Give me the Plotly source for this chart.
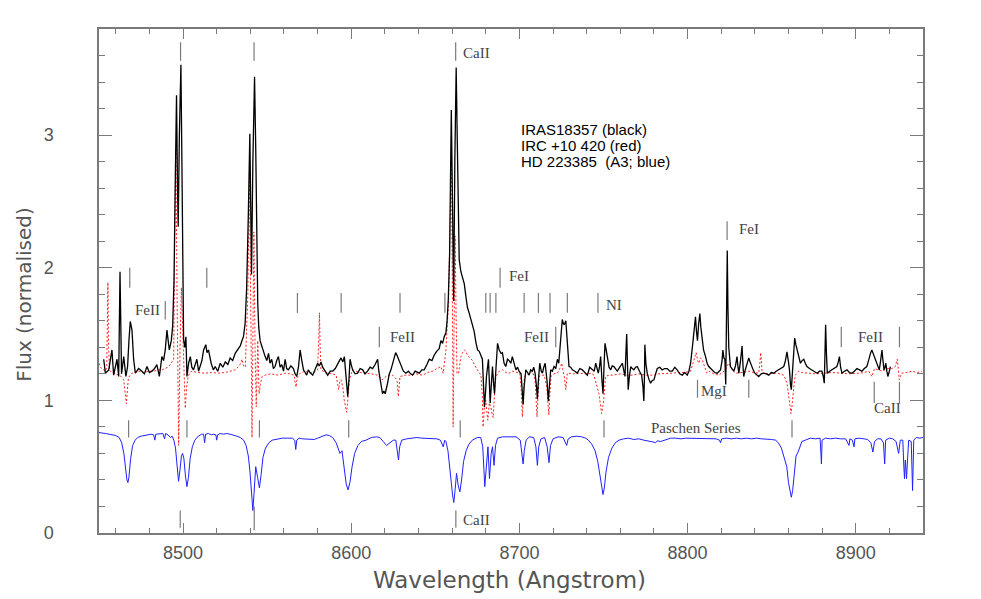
import plotly.graph_objects as go

# IRAS18357 (black)
black_wl = [8452.8, 8453.8, 8455.8, 8457.7, 8458.7, 8460.7, 8461.7, 8462.5, 8463.4, 8464.7, 8466.0, 8467.0, 8467.8, 8468.6,
            8469.6, 8470.6, 8471.6, 8473.6, 8475.5, 8477.0, 8478.5, 8480.0, 8481.5, 8483.0, 8484.4, 8485.9, 8487.4, 8488.4,
            8489.4, 8490.4, 8491.8, 8493.0, 8493.8, 8494.6, 8495.4, 8496.1, 8496.7, 8497.1, 8497.8, 8498.7, 8499.3, 8499.8,
            8500.3, 8501.0, 8501.7, 8502.3, 8503.3, 8504.3, 8505.2, 8506.2, 8507.2, 8508.2, 8509.2, 8510.2, 8511.2, 8512.2,
            8513.5, 8514.2, 8515.1, 8516.7, 8518.0, 8519.1, 8520.6, 8522.1, 8523.6, 8525.1, 8526.6, 8528.0, 8529.5, 8531.0,
            8532.5, 8534.0, 8535.0, 8535.9, 8536.9, 8537.8, 8538.8, 8539.7, 8540.2, 8540.7, 8541.5, 8542.5, 8543.2, 8543.9,
            8544.4, 8545.0, 8545.8, 8546.8, 8547.8, 8548.8, 8549.8, 8550.8, 8551.7, 8552.7, 8553.7, 8554.7, 8555.7, 8556.7,
            8557.7, 8558.7, 8559.7, 8560.7, 8561.6, 8562.6, 8564.1, 8565.6, 8566.6, 8567.6, 8568.6, 8569.6, 8570.6, 8571.6,
            8572.6, 8573.5, 8574.5, 8575.5, 8577.1, 8578.5, 8580.0, 8581.0, 8582.0, 8583.0, 8584.0, 8585.0, 8586.0, 8587.5,
            8589.0, 8590.5, 8591.9, 8593.0, 8593.9, 8595.0, 8595.9, 8596.8, 8597.9, 8598.6, 8599.3, 8600.0, 8600.8, 8602.3,
            8603.8, 8605.3, 8606.8, 8608.2, 8609.7, 8611.2, 8612.7, 8614.2, 8615.7, 8616.4, 8617.1, 8618.6, 8619.4, 8620.2,
            8621.6, 8622.6, 8623.6, 8624.6, 8625.6, 8626.4, 8627.2, 8628.4, 8629.6, 8631.0, 8632.5, 8634.0, 8635.3, 8636.5,
            8638.0, 8639.3, 8640.4, 8642.0, 8643.4, 8645.0, 8646.4, 8648.0, 8649.3, 8650.8, 8652.3, 8653.3, 8654.3, 8655.3,
            8656.3, 8657.0, 8657.7, 8658.5, 8659.0, 8659.5, 8660.1, 8660.9, 8661.6, 8662.4, 8663.0, 8663.6, 8664.2, 8665.2,
            8666.2, 8667.2, 8668.2, 8669.1, 8670.1, 8671.1, 8672.1, 8673.1, 8674.1, 8675.1, 8676.1, 8677.1, 8678.0, 8678.7,
            8679.2, 8679.8, 8680.4, 8681.6, 8682.2, 8682.6, 8683.2, 8684.0, 8684.7, 8685.2, 8686.1, 8687.0, 8688.0, 8689.0,
            8689.9, 8690.9, 8691.9, 8692.9, 8693.9, 8694.9, 8695.8, 8696.9, 8697.9, 8698.9, 8699.8, 8701.0, 8701.8, 8702.2,
            8702.8, 8703.8, 8704.8, 8705.8, 8706.7, 8707.7, 8708.5, 8709.3, 8710.2, 8710.7, 8711.3, 8712.1, 8713.0, 8713.7,
            8714.5, 8715.3, 8716.4, 8717.2, 8717.9, 8718.6, 8719.6, 8720.6, 8721.6, 8722.6, 8723.4, 8724.2, 8725.0, 8725.5,
            8726.1, 8726.7, 8727.6, 8728.0, 8728.5, 8729.5, 8730.5, 8731.5, 8733.0, 8734.4, 8735.9, 8737.4, 8738.9, 8740.4,
            8741.8, 8743.3, 8744.5, 8745.4, 8746.9, 8747.6, 8748.3, 8749.1, 8749.7, 8750.3, 8750.9, 8751.6, 8752.3, 8753.3,
            8754.3, 8755.2, 8756.2, 8757.2, 8758.2, 8759.7, 8761.2, 8762.0, 8762.8, 8763.3, 8763.8, 8764.2, 8764.7, 8765.4,
            8766.2, 8767.1, 8768.1, 8769.1, 8770.1, 8771.4, 8772.7, 8773.5, 8774.0, 8774.4, 8774.6, 8775.2, 8776.0, 8777.0,
            8778.0, 8779.0, 8780.0, 8781.0, 8782.0, 8783.5, 8784.9, 8786.4, 8787.9, 8789.4, 8790.9, 8792.4, 8793.8, 8795.3,
            8796.8, 8798.3, 8799.8, 8800.8, 8801.8, 8803.1, 8804.0, 8804.7, 8805.3, 8805.9, 8806.6, 8807.3, 8807.9, 8808.7,
            8809.5, 8810.7, 8811.6, 8812.6, 8813.6, 8814.6, 8816.1, 8817.6, 8818.6, 8819.6, 8820.5, 8821.0, 8821.6, 8822.2,
            8822.7, 8823.1, 8823.6, 8824.0, 8824.5, 8825.5, 8826.5, 8827.5, 8828.5, 8829.4, 8830.0, 8830.5, 8831.5, 8832.4,
            8833.0, 8833.4, 8834.1, 8834.8, 8835.6, 8836.4, 8837.2, 8838.0, 8839.0, 8840.0, 8841.2, 8842.3, 8843.8, 8845.3,
            8846.8, 8848.3, 8849.8, 8851.2, 8852.7, 8854.2, 8855.7, 8857.2, 8858.2, 8859.1, 8859.9, 8860.6, 8861.2, 8861.7,
            8862.3, 8862.9, 8863.7, 8864.4, 8865.1, 8866.1, 8867.1, 8868.1, 8869.1, 8870.0, 8871.0, 8872.5, 8874.0, 8875.5,
            8877.0, 8878.5, 8879.9, 8880.7, 8881.3, 8881.7, 8882.1, 8882.6, 8883.1, 8884.5, 8885.9, 8887.3, 8888.8, 8889.6,
            8890.3, 8891.0, 8891.8, 8893.3, 8894.8, 8896.2, 8897.7, 8899.2, 8900.7, 8902.2, 8903.7, 8905.1, 8906.6, 8907.4,
            8908.1, 8908.9, 8909.6, 8910.4, 8911.2, 8911.9, 8912.6, 8913.3, 8914.0, 8914.8, 8915.6, 8916.2, 8916.8, 8917.4,
            8917.9, 8918.5, 8919.1, 8919.8, 8920.6]
black_fx = [1.31, 1.205, 1.23, 1.38, 1.19, 1.31, 1.18, 1.97, 1.20, 1.33, 1.18, 1.255, 1.45, 1.595,
            1.53, 1.31, 1.205, 1.24, 1.22, 1.20, 1.255, 1.21, 1.22, 1.24, 1.27, 1.18, 1.33, 1.30,
            1.38, 1.53, 1.38, 1.45, 1.56, 1.9, 2.7, 3.30, 2.6, 2.31, 3.0, 3.53, 2.8, 1.9,
            1.46, 1.40, 1.48, 1.18, 1.28, 1.33, 1.25, 1.23, 1.27, 1.31, 1.22, 1.255, 1.30, 1.38,
            1.42, 1.36, 1.38, 1.28, 1.23, 1.255, 1.22, 1.28, 1.25, 1.29, 1.27, 1.32, 1.30, 1.355,
            1.38, 1.41, 1.45, 1.48, 1.58, 1.85, 2.4, 3.01, 2.5, 1.95, 2.8, 3.44, 2.9, 2.1,
            1.73, 1.55, 1.45, 1.41, 1.36, 1.33, 1.30, 1.355, 1.28, 1.31, 1.24, 1.255, 1.30, 1.33,
            1.25, 1.27, 1.22, 1.31, 1.24, 1.23, 1.26, 1.24, 1.20, 1.18, 1.25, 1.38, 1.30, 1.23,
            1.21, 1.19, 1.23, 1.21, 1.19, 1.24, 1.28, 1.26, 1.29, 1.25, 1.23, 1.21, 1.19, 1.22,
            1.22, 1.24, 1.28, 1.30, 1.32, 1.29, 1.33, 1.20, 1.03, 1.15, 1.31, 1.27, 1.23, 1.20,
            1.205, 1.24, 1.23, 1.20, 1.22, 1.25, 1.24, 1.27, 1.31, 1.22, 1.155, 1.05, 1.07, 1.05,
            1.13, 1.20, 1.23, 1.28, 1.31, 1.36, 1.34, 1.30, 1.255, 1.22, 1.205, 1.22, 1.20, 1.19,
            1.22, 1.21, 1.205, 1.23, 1.23, 1.27, 1.31, 1.30, 1.34, 1.37, 1.39, 1.45, 1.43, 1.48,
            1.51, 1.60, 1.76, 2.1, 2.7, 3.19, 2.6, 1.75, 2.8, 3.51, 3.0, 2.4, 2.06, 1.97,
            1.93, 1.88, 1.78, 1.70, 1.66, 1.61, 1.56, 1.52, 1.44, 1.38, 1.37, 1.34, 1.31, 1.10,
            0.95, 1.05, 1.18, 1.31, 1.10, 0.98, 1.10, 1.255, 1.12, 1.05, 1.25, 1.43, 1.38, 1.355,
            1.36, 1.28, 1.255, 1.31, 1.30, 1.28, 1.33, 1.27, 1.23, 1.25, 1.22, 1.20, 1.05, 0.97,
            1.10, 1.23, 1.21, 1.19, 1.23, 1.22, 1.25, 1.205, 1.10, 1.01, 1.15, 1.28, 1.22, 1.205,
            1.25, 1.28, 1.15, 0.995, 1.12, 1.23, 1.22, 1.255, 1.24, 1.31, 1.28, 1.41, 1.55, 1.61,
            1.58, 1.57, 1.60, 1.52, 1.41, 1.255, 1.25, 1.23, 1.22, 1.205, 1.24, 1.23, 1.21, 1.19,
            1.25, 1.23, 1.22, 1.28, 1.205, 1.25, 1.33, 1.15, 1.05, 1.25, 1.43, 1.38, 1.33, 1.25,
            1.23, 1.26, 1.255, 1.24, 1.22, 1.25, 1.28, 1.23, 1.18, 1.35, 1.50, 1.30, 1.08, 1.18,
            1.255, 1.24, 1.23, 1.25, 1.255, 1.22, 1.19, 1.10, 0.995, 1.20, 1.42, 1.28, 1.205, 1.16,
            1.13, 1.15, 1.155, 1.20, 1.24, 1.25, 1.23, 1.24, 1.24, 1.22, 1.22, 1.25, 1.23, 1.20,
            1.19, 1.21, 1.19, 1.22, 1.28, 1.43, 1.55, 1.63, 1.52, 1.45, 1.58, 1.655, 1.55, 1.45,
            1.38, 1.33, 1.28, 1.255, 1.24, 1.23, 1.21, 1.205, 1.22, 1.23, 1.30, 1.38, 1.32, 1.31,
            1.12, 1.6, 2.13, 1.7, 1.40, 1.255, 1.24, 1.22, 1.26, 1.33, 1.25, 1.205, 1.30, 1.41,
            1.25, 1.18, 1.22, 1.255, 1.28, 1.32, 1.29, 1.255, 1.23, 1.205, 1.19, 1.18, 1.20, 1.205,
            1.20, 1.19, 1.21, 1.205, 1.22, 1.23, 1.24, 1.255, 1.30, 1.365, 1.30, 1.23, 1.12, 1.08,
            1.20, 1.31, 1.47, 1.42, 1.38, 1.33, 1.28, 1.30, 1.31, 1.28, 1.255, 1.24, 1.23, 1.22,
            1.205, 1.22, 1.22, 1.18, 1.13, 1.35, 1.57, 1.35, 1.205, 1.22, 1.23, 1.24, 1.255, 1.29,
            1.33, 1.25, 1.205, 1.22, 1.23, 1.21, 1.205, 1.22, 1.24, 1.23, 1.22, 1.24, 1.255, 1.29,
            1.33, 1.36, 1.38, 1.35, 1.33, 1.30, 1.28, 1.25, 1.23, 1.30, 1.38, 1.30, 1.23, 1.25,
            1.28, 1.22, 1.18, 1.21, 1.255]

# IRC +10 420 (red)
red_wl = [8450.0, 8450.8, 8451.8, 8452.8, 8453.8, 8454.6, 8455.0, 8455.3, 8455.7, 8456.2, 8457.5, 8458.7, 8460.2, 8461.7,
          8463.2, 8464.7, 8465.6, 8466.3, 8466.9, 8467.5, 8468.5, 8469.6, 8471.6, 8473.6, 8476.5, 8479.5, 8482.5, 8485.5,
          8487.5, 8489.4, 8491.0, 8492.4, 8493.4, 8494.4, 8495.0, 8495.7, 8496.4, 8497.4, 8498.2, 8499.0, 8500.0, 8501.3,
          8502.1, 8503.0, 8504.0, 8505.2, 8509.0, 8513.2, 8517.0, 8521.1, 8525.0, 8529.0, 8531.0, 8533.0, 8534.3, 8535.0,
          8536.0, 8537.0, 8538.5, 8539.5, 8540.3, 8541.0, 8541.6, 8542.1, 8542.8, 8543.5, 8544.4, 8545.2, 8546.0, 8547.0,
          8548.8, 8552.0, 8556.7, 8560.7, 8563.5, 8566.0, 8566.7, 8567.2, 8567.8, 8569.6, 8572.5, 8575.1, 8578.0, 8580.0,
          8580.6, 8581.1, 8581.5, 8582.0, 8584.5, 8587.0, 8589.0, 8591.0, 8592.0, 8592.5, 8593.2, 8593.9, 8595.0, 8595.9,
          8597.3, 8598.2, 8598.9, 8600.0, 8600.8, 8605.0, 8608.8, 8612.0, 8615.7, 8617.0, 8618.3, 8620.7, 8622.5, 8624.6,
          8626.2, 8627.2, 8628.0, 8628.6, 8629.0, 8632.0, 8634.5, 8638.5, 8642.4, 8645.5, 8648.3, 8651.0, 8653.3, 8654.7,
          8655.6, 8656.3, 8657.8, 8658.8, 8659.6, 8660.1, 8660.6, 8661.2, 8661.8, 8662.3, 8662.9, 8663.8, 8664.6, 8665.2,
          8666.2, 8667.2, 8668.2, 8669.1, 8670.6, 8672.1, 8673.6, 8675.1, 8676.1, 8677.1, 8677.9, 8678.4, 8679.2, 8680.0,
          8680.6, 8681.2, 8682.1, 8683.0, 8683.7, 8684.4, 8685.2, 8686.0, 8688.0, 8689.9, 8692.0, 8693.9, 8695.8, 8698.0,
          8700.2, 8701.0, 8701.8, 8702.4, 8703.0, 8705.5, 8707.7, 8709.3, 8710.5, 8711.1, 8711.7, 8713.2, 8714.7, 8716.3,
          8717.5, 8718.1, 8718.8, 8720.6, 8722.6, 8724.0, 8725.2, 8726.0, 8726.7, 8727.6, 8728.5, 8732.0, 8735.5, 8739.5,
          8743.3, 8744.5, 8745.7, 8747.3, 8748.9, 8750.1, 8750.7, 8751.3, 8753.2, 8755.2, 8760.0, 8764.0, 8767.1, 8771.0,
          8775.0, 8779.0, 8783.0, 8787.0, 8790.9, 8794.5, 8798.0, 8801.8, 8803.7, 8805.1, 8806.0, 8806.7, 8807.7, 8808.7,
          8810.2, 8811.6, 8812.6, 8815.6, 8818.6, 8820.6, 8822.6, 8823.5, 8824.5, 8826.5, 8828.5, 8832.5, 8836.4, 8839.5,
          8842.3, 8843.0, 8843.5, 8844.0, 8844.3, 8848.0, 8852.3, 8855.0, 8857.2, 8858.2, 8859.1, 8859.9, 8860.6, 8861.5,
          8862.1, 8862.7, 8863.4, 8864.1, 8866.0, 8868.0, 8872.0, 8876.0, 8881.9, 8886.0, 8891.8, 8896.0, 8901.7, 8905.0,
          8907.7, 8909.6, 8911.2, 8913.0, 8915.6, 8919.0, 8921.5, 8923.5, 8924.7, 8925.3, 8925.9, 8926.6, 8927.4, 8930.0,
          8933.4, 8936.5, 8939.3]
red_fx = [1.28, 1.25, 1.24, 1.23, 1.22, 1.25, 1.60, 1.89, 1.40, 1.23, 1.21, 1.205, 1.20, 1.19,
          1.18, 1.155, 1.05, 0.975, 1.08, 1.17, 1.19, 1.205, 1.21, 1.22, 1.21, 1.22, 1.22, 1.23,
          1.23, 1.24, 1.25, 1.27, 1.29, 1.31, 2.2, 2.90, 1.8, 0.66, 1.4, 1.85, 1.45, 0.94,
          1.10, 1.18, 1.21, 1.22, 1.21, 1.205, 1.21, 1.205, 1.21, 1.22, 1.23, 1.255, 1.28, 1.31,
          1.26, 1.25, 1.8, 2.69, 1.6, 0.72, 1.6, 2.27, 1.4, 0.95, 1.45, 1.05, 1.12, 1.18,
          1.19, 1.20, 1.19, 1.205, 1.20, 1.19, 1.13, 1.10, 1.17, 1.205, 1.22, 1.205, 1.21, 1.23,
          1.45, 1.66, 1.40, 1.23, 1.21, 1.205, 1.20, 1.19, 1.12, 1.08, 1.14, 1.155, 1.10, 0.995,
          0.91, 1.05, 1.155, 1.20, 1.23, 1.21, 1.205, 1.20, 1.19, 1.17, 1.155, 1.18, 1.19, 1.19,
          1.17, 1.155, 1.03, 1.10, 1.18, 1.19, 1.19, 1.20, 1.19, 1.21, 1.22, 1.24, 1.255, 1.205,
          1.30, 1.38, 1.73, 2.4, 2.87, 1.9, 0.80, 1.6, 2.24, 1.7, 1.20, 1.205, 1.28, 1.33,
          1.36, 1.38, 1.37, 1.34, 1.32, 1.30, 1.26, 1.23, 1.21, 1.19, 1.05, 0.80, 0.95, 1.00,
          0.92, 0.85, 0.98, 0.95, 0.90, 0.87, 1.05, 1.18, 1.22, 1.23, 1.21, 1.205, 1.22, 1.21,
          1.205, 1.10, 0.875, 1.05, 1.18, 1.20, 1.22, 1.155, 0.875, 1.05, 1.18, 1.19, 1.19, 1.10,
          0.89, 1.05, 1.18, 1.20, 1.205, 1.24, 1.28, 1.22, 1.18, 1.08, 1.205, 1.20, 1.205, 1.20,
          1.205, 1.18, 1.13, 1.05, 0.90, 0.995, 1.10, 1.18, 1.19, 1.19, 1.20, 1.19, 1.19, 1.20,
          1.19, 1.19, 1.20, 1.20, 1.205, 1.21, 1.21, 1.22, 1.31, 1.36, 1.30, 1.28, 1.32, 1.31,
          1.25, 1.205, 1.22, 1.20, 1.19, 1.21, 1.23, 1.26, 1.28, 1.23, 1.205, 1.21, 1.22, 1.21,
          1.205, 1.28, 1.36, 1.28, 1.205, 1.20, 1.205, 1.20, 1.19, 1.16, 1.13, 1.06, 0.995, 0.90,
          0.96, 1.05, 1.13, 1.19, 1.22, 1.21, 1.205, 1.20, 1.205, 1.21, 1.205, 1.20, 1.205, 1.21,
          1.22, 1.18, 1.24, 1.23, 1.22, 1.24, 1.24, 1.255, 1.31, 1.24, 1.155, 1.18, 1.205, 1.21,
          1.22, 1.21, 1.22]

# HD 223385 (blue)
blue_wl = [8450, 8452, 8454, 8456, 8458, 8460, 8462, 8463.5, 8464.8, 8465.8, 8466.6, 8467.2, 8467.8, 8468.8,
           8470.0, 8471.5, 8473, 8475, 8477, 8479, 8481, 8482.5, 8483.2, 8483.8, 8486, 8488, 8489, 8489.6,
           8491, 8492.5, 8493.5, 8494.5, 8495.5, 8496.3, 8497.3, 8498.2, 8499.0, 8499.7, 8500.5, 8501.4, 8502.3, 8503.2,
           8504.2, 8505.5, 8507, 8509, 8511, 8512.2, 8512.8, 8513.4, 8515, 8517, 8518, 8519.5, 8520, 8520.5,
           8522, 8524, 8526, 8528, 8530, 8532, 8534, 8536, 8537.5, 8538.8, 8539.8, 8540.8, 8541.5, 8542.2,
           8543.2, 8544.3, 8545.4, 8546.4, 8547.5, 8549, 8551, 8553, 8556, 8559, 8562, 8565, 8566.4, 8567,
           8567.6, 8569, 8571, 8572, 8574, 8576, 8578, 8580, 8582, 8585, 8587, 8589, 8591, 8592.5,
           8593.3, 8594.5, 8595.8, 8597, 8598.1, 8599.2, 8600.5, 8602, 8604, 8606, 8608.8, 8612, 8615, 8617,
           8619, 8621, 8623, 8625, 8626.5, 8627.4, 8628.1, 8628.8, 8630, 8633, 8636, 8639, 8642, 8645,
           8648, 8651, 8653, 8654.7, 8655.6, 8656.3, 8657.5, 8658.5, 8659.5, 8660.3, 8661.0, 8661.8, 8662.6, 8663.6,
           8664.6, 8665.6, 8666.8, 8668.3, 8670, 8672, 8675, 8677, 8678.2, 8679.4, 8680.5, 8681.3, 8682.2, 8683.2,
           8684.0, 8684.9, 8685.8, 8687, 8690, 8694, 8698, 8700.5, 8701.5, 8702.2, 8702.9, 8704, 8706, 8708.5,
           8709.8, 8710.7, 8711.5, 8712.8, 8715, 8716.5, 8717.6, 8718.5, 8720, 8723, 8726, 8727.3, 8728.1, 8729,
           8731, 8734, 8737, 8739.4, 8741, 8743, 8745, 8746.6, 8748, 8749, 8749.7, 8750.5, 8751.5, 8753,
           8755, 8757, 8759.2, 8762, 8765, 8768, 8771, 8774, 8777, 8780, 8781, 8782, 8784, 8787,
           8790, 8793, 8796, 8799, 8802, 8805, 8808, 8811, 8814, 8817, 8819, 8819.6, 8820.3, 8823,
           8826, 8829, 8832, 8835, 8838, 8841, 8844, 8847, 8850, 8852.3, 8854, 8855.8, 8857, 8858,
           8859, 8860, 8861, 8861.7, 8862.5, 8863.5, 8864.5, 8865.7, 8866.8, 8868, 8870, 8873, 8876, 8878.8,
           8879.3, 8879.6, 8880, 8882, 8885, 8888, 8891, 8894, 8896, 8896.5, 8898, 8899, 8899.5, 8902,
           8905, 8907, 8909, 8910.2, 8911.2, 8913, 8915, 8916.5, 8917.2, 8917.8, 8920, 8922, 8924, 8925.5,
           8926.5, 8928, 8928.6, 8929, 8929.5, 8930.2, 8930.8, 8931.5, 8933, 8933.8, 8934.5, 8936, 8938, 8940]
blue_fx = [0.757, 0.755, 0.75, 0.745, 0.74, 0.735, 0.72, 0.68, 0.60, 0.48, 0.40, 0.38, 0.42, 0.56,
           0.66, 0.70, 0.72, 0.73, 0.735, 0.74, 0.745, 0.74, 0.70, 0.745, 0.75, 0.75, 0.71, 0.75,
           0.74, 0.72, 0.73, 0.70, 0.64, 0.52, 0.39, 0.48, 0.58, 0.60, 0.56, 0.43, 0.35, 0.42,
           0.56, 0.65, 0.70, 0.73, 0.745, 0.745, 0.68, 0.745, 0.75, 0.74, 0.745, 0.74, 0.70, 0.74,
           0.75, 0.745, 0.75, 0.745, 0.74, 0.73, 0.72, 0.70, 0.66, 0.58, 0.46, 0.30, 0.17, 0.30,
           0.50, 0.42, 0.34, 0.44, 0.57, 0.64, 0.68, 0.70, 0.71, 0.715, 0.715, 0.715, 0.70, 0.63,
           0.70, 0.715, 0.71, 0.71, 0.705, 0.71, 0.705, 0.715, 0.725, 0.74, 0.735, 0.72, 0.68, 0.62,
           0.60, 0.62, 0.50, 0.37, 0.325, 0.38, 0.50, 0.60, 0.66, 0.69, 0.70, 0.72, 0.725, 0.72,
           0.69, 0.66, 0.68, 0.70, 0.70, 0.62, 0.55, 0.65, 0.70, 0.71, 0.715, 0.72, 0.715, 0.715,
           0.715, 0.71, 0.70, 0.65, 0.70, 0.69, 0.62, 0.52, 0.38, 0.28, 0.23, 0.33, 0.45, 0.36,
           0.31, 0.40, 0.54, 0.62, 0.67, 0.70, 0.72, 0.72, 0.65, 0.35, 0.55, 0.65, 0.41, 0.60,
           0.65, 0.51, 0.66, 0.715, 0.725, 0.727, 0.725, 0.70, 0.60, 0.52, 0.62, 0.70, 0.725, 0.72,
           0.65, 0.51, 0.65, 0.71, 0.72, 0.65, 0.53, 0.66, 0.71, 0.725, 0.72, 0.69, 0.66, 0.71,
           0.725, 0.73, 0.725, 0.715, 0.70, 0.67, 0.62, 0.54, 0.42, 0.33, 0.29, 0.34, 0.46, 0.57,
           0.64, 0.68, 0.70, 0.71, 0.715, 0.705, 0.71, 0.70, 0.695, 0.685, 0.68, 0.695, 0.69, 0.70,
           0.715, 0.715, 0.71, 0.715, 0.715, 0.71, 0.715, 0.71, 0.715, 0.71, 0.70, 0.68, 0.71, 0.715,
           0.71, 0.715, 0.71, 0.715, 0.71, 0.715, 0.71, 0.71, 0.705, 0.70, 0.68, 0.64, 0.58, 0.55,
           0.50, 0.38, 0.30, 0.27, 0.32, 0.45, 0.58, 0.61, 0.65, 0.69, 0.70, 0.715, 0.71, 0.715,
           0.60, 0.52, 0.70, 0.715, 0.71, 0.715, 0.71, 0.71, 0.66, 0.71, 0.70, 0.65, 0.71, 0.715,
           0.71, 0.705, 0.68, 0.61, 0.69, 0.71, 0.71, 0.68, 0.52, 0.70, 0.715, 0.71, 0.69, 0.60,
           0.70, 0.70, 0.50, 0.41, 0.55, 0.41, 0.55, 0.70, 0.69, 0.32, 0.70, 0.72, 0.715, 0.72]

# line identification ticks: (wavelength, flux bottom, flux top)
id_ticks = [
    (8498.5, 3.56, 3.70), (8542.2, 3.56, 3.70), (8662.1, 3.56, 3.70),
    (8498.3, 0.04, 0.17), (8542.3, 0.02, 0.20), (8662.2, 0.04, 0.17),
    (8468.3, 1.85, 2.00), (8514.1, 1.85, 2.00), (8688.5, 1.85, 2.00),
    (8568.0, 1.66, 1.81), (8594.0, 1.66, 1.81), (8629.0, 1.66, 1.81), (8655.7, 1.66, 1.81),
    (8680.0, 1.66, 1.81), (8682.6, 1.66, 1.81), (8686.0, 1.66, 1.81), (8702.8, 1.66, 1.81),
    (8711.3, 1.66, 1.81), (8718.2, 1.66, 1.81), (8728.5, 1.66, 1.81), (8746.7, 1.66, 1.81),
    (8489.4, 1.61, 1.75), (8616.7, 1.40, 1.555), (8721.6, 1.40, 1.555), (8891.4, 1.40, 1.555), (8926.0, 1.40, 1.555),
    (8823.5, 2.21, 2.35),
    (8805.9, 1.02, 1.155), (8836.4, 1.02, 1.155),
    (8911.0, 0.98, 1.14), (8926.0, 0.98, 1.14),
    (8467.6, 0.72, 0.85), (8502.3, 0.72, 0.85), (8545.4, 0.72, 0.85), (8598.5, 0.72, 0.85),
    (8664.8, 0.72, 0.85), (8750.3, 0.72, 0.85), (8862.1, 0.72, 0.85),
]

# line labels: (text, wavelength, flux, anchor)
id_labels = [
    ("CaII", 8665.0, 3.62, "left"), ("FeII", 8487.3, 1.68, "right"), ("FeII", 8622.0, 1.48, "left"),
    ("FeI", 8692.7, 1.94, "left"), ("FeII", 8718.8, 1.48, "right"), ("NI", 8750.4, 1.72, "left"),
    ("FeI", 8829.4, 2.29, "left"), ("MgI", 8815.6, 1.07, "center"), ("FeII", 8900.0, 1.48, "left"),
    ("CaII", 8918.6, 0.94, "center"), ("Paschen Series", 8805.2, 0.79, "center"), ("CaII", 8665.4, 0.10, "left"),
]

key_lines = ["IRAS18357 (black)", "IRC +10 420 (red)", "HD 223385&nbsp;&nbsp;(A3; blue)"]
key_flux = [3.04, 2.92, 2.80]

gray = "#7a7a7a"

fig = go.Figure()
fig.add_trace(go.Scatter(x=blue_wl, y=blue_fx, mode="lines", line=dict(color="#2020ff", width=1)))
fig.add_trace(go.Scatter(x=red_wl, y=red_fx, mode="lines", line=dict(color="#ff2020", width=1, dash="2px,2px")))
fig.add_trace(go.Scatter(x=black_wl, y=black_fx, mode="lines", line=dict(color="black", width=1.3)))

for wl, lo, hi in id_ticks:
    fig.add_shape(type="line", x0=wl, x1=wl, y0=lo, y1=hi, xref="x", yref="y", line=dict(color=gray, width=1.2))

for txt, wl, fl, anc in id_labels:
    fig.add_annotation(x=wl, y=fl, text=txt, showarrow=False, xanchor=anc, yanchor="middle",
                       font=dict(family="Liberation Serif, serif", size=15, color="#444"))

for txt, fl in zip(key_lines, key_flux):
    fig.add_annotation(x=8699.8, y=fl, text=txt, showarrow=False, xanchor="left", yanchor="middle",
                       font=dict(family="Liberation Sans, Arial, sans-serif", size=15, color="black"))

fig.add_annotation(x=0.498, y=0, xref="paper", yref="paper", yshift=-47, text="Wavelength (Angstrom)",
                   showarrow=False, yanchor="middle", font=dict(family="DejaVu Sans", size=23, color="#555"))
fig.add_annotation(x=0, y=0.4725, xref="paper", yref="paper", xshift=-75, text="Flux (normalised)", textangle=-90,
                   showarrow=False, xanchor="center", yanchor="middle", font=dict(family="DejaVu Sans", size=20, color="#555"))

axis_common = dict(showline=True, linecolor=gray, linewidth=1.5, mirror="allticks", ticks="inside",
                   tickcolor=gray, tickwidth=1.2, showgrid=False, zeroline=False,
                   tickfont=dict(family="Liberation Sans Narrow, Liberation Sans, sans-serif", size=18, color="#555"))

fig.update_xaxes(range=[8450, 8940], tick0=8500, dtick=100, ticklen=10, ticklabelstandoff=3,
                 minor=dict(dtick=20, tick0=8500, ticks="inside", ticklen=5, tickcolor=gray, tickwidth=1), **axis_common)
fig.update_yaxes(range=[0, 3.8], tick0=0, dtick=1, ticklen=13, ticklabelstandoff=40,
                 minor=dict(dtick=0.2, tick0=0, ticks="inside", ticklen=6, tickcolor=gray, tickwidth=1), **axis_common)

# the page body adds an 8px offset, so the figure is 8px smaller than the window
fig.update_layout(width=973, height=591, margin=dict(l=91, r=58, t=21, b=66),
                  plot_bgcolor="white", paper_bgcolor="white", showlegend=False)

fig.write_html("out.html")
